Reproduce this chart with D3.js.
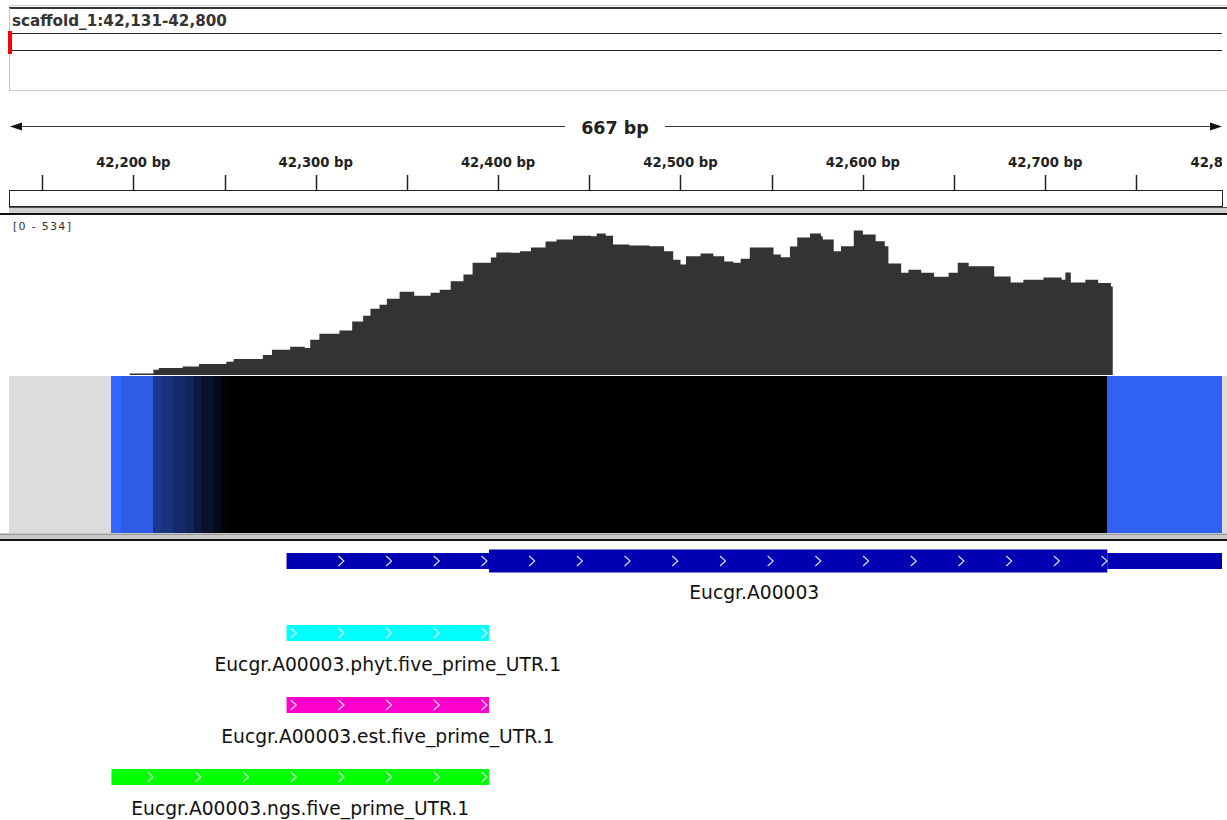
<!DOCTYPE html>
<html>
<head>
<meta charset="utf-8">
<script src="https://cdn.jsdelivr.net/npm/d3@7"></script>
<style>
  body { margin: 0; background: #fff; }
  svg { display: block; font-family: "DejaVu Sans", sans-serif; }
</style>
</head>
<body>
<svg id="view" width="1227" height="820"></svg>
<script>
// ---- locus and ruler ----
const locusLabel = "scaffold_1:42,131-42,800";
const viewStart = 42131;
const viewEnd = 42798;
const spanLabel = "667 bp";
const majorTicks = [42200, 42300, 42400, 42500, 42600, 42700, 42800];
const majorTickLabels = ["42,200 bp", "42,300 bp", "42,400 bp", "42,500 bp", "42,600 bp", "42,700 bp", "42,800 bp"];
const minorTicks = [42150, 42250, 42350, 42450, 42550, 42650, 42750];

// ---- coverage track (read depth, step per bin start) ----
const coverageRangeLabel = "[0 - 534]";
const coverageMax = 534;
const covStart = [42198, 42211, 42214, 42227, 42236, 42251, 42255, 42271, 42276, 42286, 42294, 42297,
  42302, 42313, 42320, 42326, 42330, 42335, 42339, 42346, 42352, 42354, 42363, 42368, 42374, 42381,
  42386, 42396, 42399, 42407, 42412, 42418, 42426, 42432, 42441, 42451, 42454, 42459, 42463, 42472,
  42483, 42491, 42496, 42500, 42503, 42511, 42518, 42524, 42529, 42533, 42538, 42545, 42551, 42555,
  42560, 42564, 42571, 42577, 42578, 42584, 42588, 42595, 42600, 42607, 42612, 42614, 42621, 42625,
  42632, 42639, 42647, 42652, 42658, 42666, 42672, 42681, 42688, 42699, 42709, 42711, 42714, 42722,
  42729, 42736];
const covDepth = [6, 19, 26, 31, 41, 49, 59, 74, 93, 104, 100, 130,
  152, 164, 198, 219, 245, 260, 282, 308, 308, 293, 304, 315, 346, 371,
  415, 434, 453, 452, 457, 471, 493, 501, 515, 513, 523, 515, 482, 479,
  476, 457, 426, 408, 439, 449, 439, 419, 415, 430, 471, 471, 445, 435,
  475, 508, 523, 513, 501, 457, 476, 534, 519, 494, 476, 412, 378, 389,
  378, 363, 378, 415, 402, 402, 364, 342, 352, 360, 352, 379, 342, 352,
  340, 327];
const covEnd = 42737;

// ---- heatmap track (signal per bin start) ----
const heatStart = [42188, 42193, 42211, 42215, 42222, 42229, 42233, 42237, 42244, 42248, 42252, 42734];
const heatValue = [0, 6, 27, 30, 35, 39, 45, 50, 54, 58, 80, 3];
const heatEnd = 42798;

// ---- gene model ----
const geneName = "Eucgr.A00003";
const geneStart = 42284, geneCdsStart = 42395, geneCdsEnd = 42734, geneEnd = 42900;
const geneColor = "#0000b2";

// ---- 5' UTR features ----
const utrNames = ["Eucgr.A00003.phyt.five_prime_UTR.1", "Eucgr.A00003.est.five_prime_UTR.1", "Eucgr.A00003.ngs.five_prime_UTR.1"];
const utrStart = [42284, 42284, 42188];
const utrEnd = [42395, 42395, 42395];
const utrColors = ["#00ffff", "#ff00cc", "#00ff00"];

const W = 1227, panelLeft = 9, panelRight = 1222;
const svg = d3.select("#view");

const x = d3.scaleLinear().domain([viewStart, viewEnd]).range([7.5, 1224]);

// clip everything to the data panel
svg.append("defs").append("clipPath").attr("id", "panel")
  .append("rect").attr("x", panelLeft).attr("y", 0).attr("width", panelRight - panelLeft).attr("height", 820);

function hline(y, x1, x2, color, w) {
  svg.append("line").attr("x1", x1).attr("x2", x2).attr("y1", y).attr("y2", y)
    .attr("stroke", color).attr("stroke-width", w || 1).attr("shape-rendering", "crispEdges");
}

// ---- header ----
hline(5.5, panelLeft, W, "#c8c8c8");
hline(8, panelLeft, W, "#333", 2);
svg.append("line").attr("x1", 9.5).attr("x2", 9.5).attr("y1", 8).attr("y2", 90)
  .attr("stroke", "#c8c8c8").attr("shape-rendering", "crispEdges");
svg.append("text").attr("x", 12).attr("y", 26).attr("font-size", 15.2).attr("font-weight", "bold")
  .attr("fill", "#333").text(locusLabel);

// chromosome ideogram outline with current-view marker
hline(33.5, panelLeft, panelRight, "#222");
hline(50.5, panelLeft, panelRight, "#222");
svg.append("rect").attr("x", 8).attr("y", 31).attr("width", 4).attr("height", 23).attr("fill", "#ff0000");

hline(90.5, panelLeft, W, "#c8c8c8");

// ---- ruler ----
const rulerY = 126;
const gapL = 565, gapR = 665;
hline(rulerY + 0.5, panelLeft + 2, gapL, "#333");
hline(rulerY + 0.5, gapR, panelRight - 2, "#333");
svg.append("path").attr("d", `M${panelLeft + 1},${rulerY + 0.5} L${panelLeft + 13},${rulerY - 3.5} L${panelLeft + 13},${rulerY + 4.5} Z`).attr("fill", "#111");
svg.append("path").attr("d", `M${panelRight},${rulerY + 0.5} L${panelRight - 12},${rulerY - 3.5} L${panelRight - 12},${rulerY + 4.5} Z`).attr("fill", "#111");
svg.append("text").attr("x", (gapL + gapR) / 2).attr("y", 134).attr("text-anchor", "middle")
  .attr("font-size", 17.5).attr("font-weight", "bold").attr("fill", "#222").text(spanLabel);

const ruler = svg.append("g").attr("clip-path", "url(#panel)");
ruler.selectAll("text.major").data(majorTicks).join("text").attr("class", "major")
  .attr("x", d => x(d)).attr("y", 167).attr("text-anchor", "middle")
  .attr("font-size", 13.2).attr("font-weight", "bold").attr("fill", "#222")
  .text((d, i) => majorTickLabels[i]);
ruler.selectAll("line.tick").data(majorTicks.concat(minorTicks)).join("line").attr("class", "tick")
  .attr("x1", d => Math.round(x(d)) + 0.5).attr("x2", d => Math.round(x(d)) + 0.5)
  .attr("y1", 175).attr("y2", 190).attr("stroke", "#222").attr("stroke-width", 1.5);

// boxes below the ruler
svg.append("rect").attr("x", panelLeft + 0.5).attr("y", 190.5).attr("width", panelRight - panelLeft).attr("height", 16)
  .attr("fill", "#fff").attr("stroke", "#222").attr("shape-rendering", "crispEdges");
svg.append("rect").attr("x", panelLeft).attr("y", 207).attr("width", W - panelLeft).attr("height", 7).attr("fill", "#cfcfcf");
hline(207.5, panelLeft, W, "#555");
hline(214, 0, W, "#111", 2);

// ---- coverage track ----
const covTop = 230.5, covBase = 375;
const y = d3.scaleLinear().domain([0, coverageMax]).range([covBase, covTop]);
svg.append("text").attr("x", 13).attr("y", 230).attr("font-size", 11).attr("fill", "#333")
  .attr("letter-spacing", 1.3).text(coverageRangeLabel);
const covPts = covStart.map((s, i) => [s, covDepth[i]]);
covPts.push([covEnd, covDepth[covDepth.length - 1]]);
const area = d3.area().x(d => x(d[0])).y0(covBase).y1(d => y(d[1])).curve(d3.curveStepAfter);
svg.append("path").datum(covPts).attr("d", area).attr("fill", "#333333");

// ---- heatmap track ----
const heatTop = 376, heatBottom = 533;
svg.append("rect").attr("x", panelLeft).attr("y", heatTop).attr("width", panelRight - panelLeft + 5)
  .attr("height", heatBottom - heatTop).attr("fill", "#dcdcdc");
const heatColor = d3.scaleLinear().domain([0, 60]).range(["#3366ff", "#000000"])
  .interpolate(d3.interpolateRgb).clamp(true);
const heatBins = heatStart.map((s, i) => ({ s, e: i < heatStart.length - 1 ? heatStart[i + 1] : heatEnd, v: heatValue[i] }));
svg.append("g").attr("clip-path", "url(#panel)").selectAll("rect").data(heatBins).join("rect")
  .attr("x", d => x(d.s)).attr("width", d => x(d.e) - x(d.s) + 6)
  .attr("y", heatTop).attr("height", heatBottom - heatTop)
  .attr("fill", d => heatColor(d.v)).attr("shape-rendering", "crispEdges");
svg.append("rect").attr("x", 0).attr("y", heatBottom).attr("width", W).attr("height", 6).attr("fill", "#c8c8c8");
hline(534, 0, W, "#9a9a9a");
hline(540, 0, W, "#111", 2);

// ---- feature tracks ----
const chevronStep = 47.7;
function chevrons(g, x0, x1, cy, minGap) {
  const xs = d3.range(x(viewStart), x1 + 2, chevronStep).filter(c => c > x0 + minGap && c <= x1 + 1);
  g.selectAll("path.chev").data(xs).join("path").attr("class", "chev")
    .attr("d", c => `M${c - 3},${cy - 5} L${c + 2.5},${cy} L${c - 3},${cy + 5}`)
    .attr("fill", "none").attr("stroke", "#ffffff").attr("stroke-opacity", 0.9).attr("stroke-width", 1.1);
}

const feat = svg.append("g").attr("clip-path", "url(#panel)");

// gene: thin UTR ends, thick coding block
const geneCy = 561;
feat.append("rect").attr("x", x(geneStart)).attr("width", x(geneCdsStart) - x(geneStart))
  .attr("y", geneCy - 8).attr("height", 16).attr("fill", geneColor);
feat.append("rect").attr("x", x(geneCdsEnd)).attr("width", x(geneEnd) - x(geneCdsEnd))
  .attr("y", geneCy - 8).attr("height", 16).attr("fill", geneColor);
feat.append("rect").attr("x", x(geneCdsStart)).attr("width", x(geneCdsEnd) - x(geneCdsStart))
  .attr("y", geneCy - 11.5).attr("height", 23).attr("fill", geneColor);
chevrons(feat.append("g"), x(geneStart), x(geneCdsEnd), geneCy, 20);
const visL = Math.max(x(geneStart), panelLeft), visR = Math.min(x(geneEnd), panelRight);
svg.append("text").attr("x", (visL + visR) / 2).attr("y", geneCy + 37.5).attr("text-anchor", "middle")
  .attr("font-size", 18.7).attr("fill", "#111").text(geneName);

// 5' UTR rows
utrNames.forEach((name, i) => {
  const cy = 633 + i * 72;
  const x0 = x(utrStart[i]), x1 = x(utrEnd[i]);
  const g = feat.append("g");
  g.append("rect").attr("x", x0).attr("width", x1 - x0).attr("y", cy - 8).attr("height", 16).attr("fill", utrColors[i]);
  chevrons(g, x0, x1, cy, 0);
  svg.append("text").attr("x", (x0 + x1) / 2).attr("y", cy + 37.5).attr("text-anchor", "middle")
    .attr("font-size", 18.7).attr("fill", "#111").text(name);
});
</script>
</body>
</html>
